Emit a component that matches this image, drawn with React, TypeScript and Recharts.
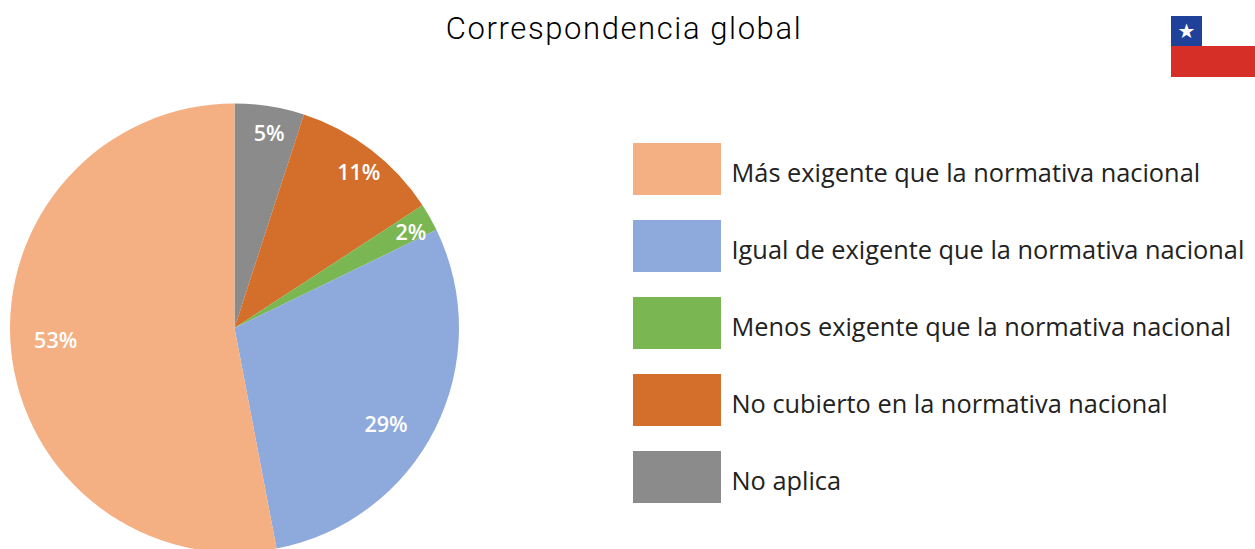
import { PieChart, Pie, Cell } from "recharts"

const categories = [
  "Más exigente que la normativa nacional",
  "Igual de exigente que la normativa nacional",
  "Menos exigente que la normativa nacional",
  "No cubierto en la normativa nacional",
  "No aplica",
]
// Clockwise from 12 o'clock: the order the slices appear in the picture
const sliceOrder = [4, 3, 2, 1, 0]
const values = [53, 29.2, 2, 10.8, 5]
const colors = ["#F4AF83", "#8EA9DB", "#7AB651", "#D46F2B", "#8B8B8B"]

const pieData = sliceOrder.map((i) => ({
  name: categories[i],
  value: values[i],
  color: colors[i],
}))

const RADIAN = Math.PI / 180

function renderLabel(props: any) {
  const { cx, cy, midAngle, outerRadius, value } = props
  // big slices keep the label further in
  const r = outerRadius * (value > 20 ? 0.8 : 0.885)
  let x = cx + r * Math.cos(-midAngle * RADIAN)
  let y = cy + r * Math.sin(-midAngle * RADIAN)
  // hand nudges, the original labels don't sit exactly on their mid angle
  if (value > 50) {
    y -= 5
  } else if (value > 20) {
    x -= 9
    y += 15
  } else {
    x += 3.5
    y += 1
  }
  return (
    <text
      x={x}
      y={y}
      fill="#fff"
      textAnchor="middle"
      dominantBaseline="central"
      fontFamily="'Open Sans'"
      fontWeight={600}
      fontSize={21.5}
    >
      {Math.round(value)}%
    </text>
  )
}

export default function App() {
  return (
    <div style={{ position: "absolute", left: 0, top: 0, width: 1255, height: 549, background: "#fff", overflow: "hidden" }}>
      <div
        style={{
          position: "absolute",
          left: 0,
          top: 10,
          width: 1248,
          textAlign: "center",
          fontFamily: "'Roboto'",
          fontWeight: 300,
          fontSize: 31,
          letterSpacing: 1.6,
          color: "#000",
        }}
      >
        Correspondencia global
      </div>

      {/* Flag */}
      <div style={{ position: "absolute", left: 1171, top: 16, width: 31, height: 30, background: "#1F419A", color: "#fff", fontSize: 20, lineHeight: "31px", textAlign: "center", fontFamily: "'DejaVu Sans'" }}>
        ★
      </div>
      <div style={{ position: "absolute", left: 1171, top: 46, width: 84, height: 31, background: "#D52F27" }} />

      <div style={{ position: "absolute", left: 0, top: 0 }}>
        <PieChart width={480} height={549} margin={{ top: 0, right: 0, bottom: 0, left: 0 }}>
          <Pie
            data={pieData}
            dataKey="value"
            cx={234.5}
            cy={328}
            outerRadius={224.5}
            startAngle={90}
            endAngle={-270}
            stroke="none"
            label={renderLabel}
            labelLine={false}
            isAnimationActive={false}
          >
            {pieData.map((d) => (
              <Cell key={d.name} fill={d.color} />
            ))}
          </Pie>
        </PieChart>
      </div>

      {/* Legend */}
      {categories.map((name, i) => (
        <div key={name}>
          <div style={{ position: "absolute", left: 633, top: 143 + i * 77, width: 88, height: 52, background: colors[i] }} />
          <div
            style={{
              position: "absolute",
              left: 731.5,
              top: 142 + i * 77,
              height: 60,
              lineHeight: "60px",
              fontFamily: "'Open Sans'",
              fontSize: 25.35,
              color: "#222",
              whiteSpace: "nowrap",
            }}
          >
            {name}
          </div>
        </div>
      ))}
    </div>
  )
}
